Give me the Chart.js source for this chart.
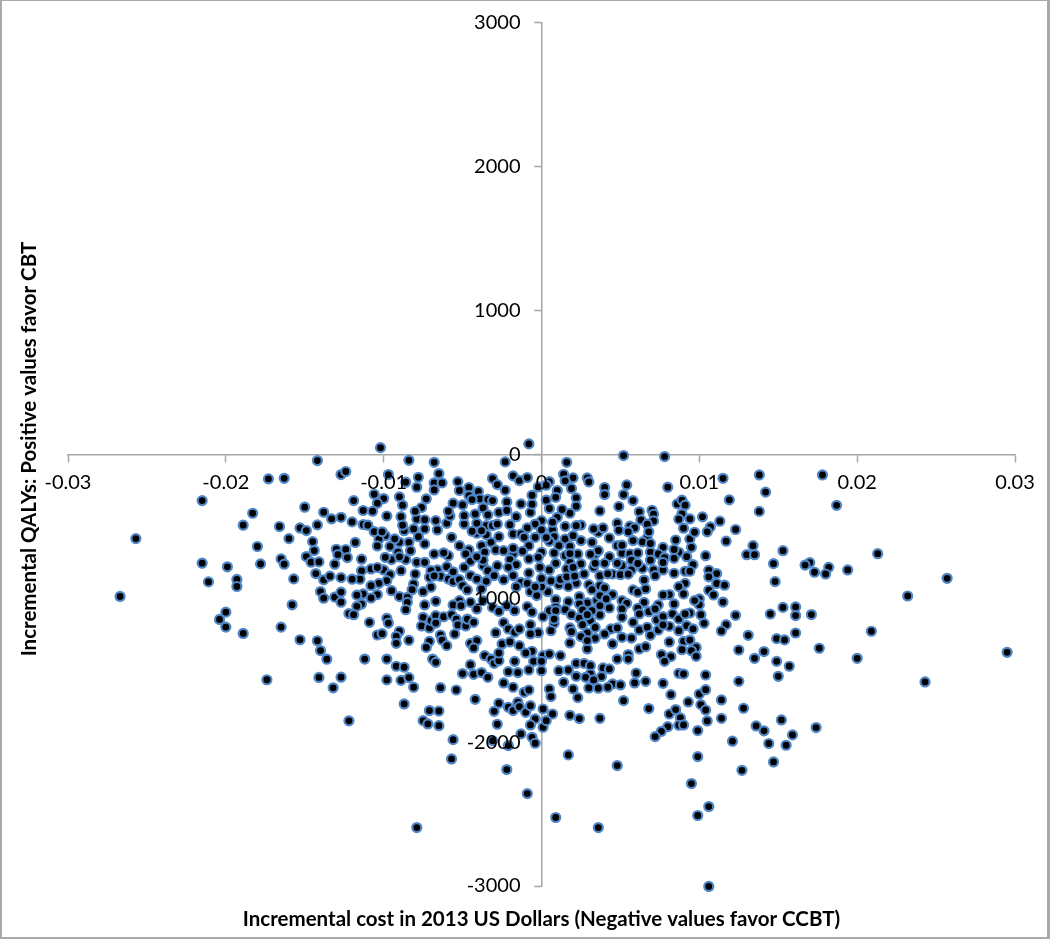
<!DOCTYPE html>
<html><head><meta charset="utf-8">
<style>
html,body{margin:0;padding:0;background:#fff;width:1050px;height:939px;overflow:hidden}
#wrap{position:relative;width:1050px;height:939px}
#frame{position:absolute;left:0;top:0;width:1050px;height:939px;box-sizing:border-box;border-style:solid;border-color:#a9a9a9;border-width:1px 3px 2px 2px;pointer-events:none}
canvas{position:absolute;left:0;top:0}
</style>
<script src="https://cdn.jsdelivr.net/npm/chart.js@4/dist/chart.umd.min.js"></script>
</head><body><div id="wrap"><canvas id="c" width="1050" height="939"></canvas><div id="frame"></div></div>
<script>
const xTitle = "Incremental cost in 2013 US Dollars (Negative values favor CCBT)";
const yTitle = "Incremental QALYs: Positive values favor CBT";
const xTicks = [-0.03,-0.02,-0.01,0,0.01,0.02,0.03];
const yTicks = [-3000,-2000,-1000,0,1000,2000,3000];
// each pair: [incremental cost axis value, incremental QALY axis value]
const denseLeft = [[-0.0098,-429],[-0.0089,-434],[-0.0079,-450],[-0.0074,-455],[-0.0067,-461],[-0.0060,-480],[-0.0058,-429],[-0.0049,-485],[-0.0049,-427],[-0.0042,-415],[-0.0041,-480],[-0.0035,-496],[-0.0041,-549],[-0.0035,-559],[-0.0099,-566],[-0.0103,-589],[-0.0087,-531],[-0.0081,-519],[-0.0074,-519],[-0.0072,-519],[-0.0066,-526],[-0.0078,-573],[-0.0090,-612],[-0.0084,-612],[-0.0074,-623],[-0.0096,-640],[-0.0104,-637],[-0.0057,-577],[-0.0052,-635],[-0.0046,-665],[-0.0048,-693],[-0.0038,-635],[-0.0038,-705],[-0.0083,-670],[-0.0091,-681],[-0.0068,-693],[-0.0059,-705],[-0.0095,-732],[-0.0099,-716],[-0.0086,-732],[-0.0079,-751],[-0.0074,-751],[-0.0060,-781],[-0.0049,-786],[-0.0037,-774],[-0.0108,-797],[-0.0100,-804],[-0.0089,-809],[-0.0066,-804],[-0.0070,-809],[-0.0080,-832],[-0.0071,-855],[-0.0064,-848],[-0.0059,-867],[-0.0056,-885],[-0.0052,-871],[-0.0045,-843],[-0.0041,-867],[-0.0035,-883],[-0.0096,-836],[-0.0098,-878],[-0.0103,-897],[-0.0108,-913],[-0.0081,-901],[-0.0082,-941],[-0.0070,-924],[-0.0050,-913],[-0.0047,-943],[-0.0095,-948],[-0.0075,-955],[-0.0104,-975],[-0.0090,-989],[-0.0085,-994],[-0.0108,-999],[-0.0085,-1029],[-0.0067,-1022],[-0.0074,-1047],[-0.0052,-1017],[-0.0045,-1029],[-0.0056,-1047],[-0.0051,-1052],[-0.0086,-1080],[-0.0037,-1017],[-0.0041,-1075]];
const denseCentre = [[-0.0027,-404],[-0.0016,-434],[-0.0007,-404],[0,-461],[0.0010,-438],[0.0018,-410],[-0.0037,-485],[-0.0031,-496],[-0.0028,-485],[-0.0020,-489],[-0.0004,-485],[-0.0009,-512],[0,-526],[0.0007,-526],[0.0015,-501],[0.0025,-492],[0.0022,-496],[-0.0038,-531],[-0.0036,-566],[-0.0027,-573],[-0.0018,-554],[-0.0013,-554],[-0.0011,-577],[-0.0004,-577],[0.0008,-573],[0.0015,-589],[0.0020,-566],[0.0025,-600],[-0.0032,-612],[-0.0008,-635],[0.0005,-605],[0.0011,-635],[0.0018,-640],[0.0032,-612],[-0.0038,-635],[-0.0036,-681],[-0.0029,-665],[-0.0024,-670],[-0.0018,-693],[-0.0012,-674],[0,-681],[0.0008,-686],[0.0015,-705],[0.0023,-693],[0.0034,-693],[-0.0008,-728],[-0.0002,-716],[-0.0020,-732],[0.0009,-758],[0.0018,-751],[0.0025,-762],[-0.0038,-762],[-0.0028,-774],[-0.0016,-767],[-0.0001,-786],[-0.0021,-786],[0.0005,-804],[0.0016,-797],[-0.0034,-809],[0.0027,-832],[0.0033,-786],[-0.0018,-843],[-0.0008,-825],[-0.0030,-843],[-0.0024,-873],[-0.0035,-883],[-0.0016,-855],[-0.0013,-890],[-0.0009,-897],[0.0022,-897],[0.0017,-920],[0.0030,-906],[0.0011,-906],[-0.0038,-936],[-0.0007,-955],[0.0004,-955],[-0.0003,-982],[0.0032,-941],[0.0024,-989],[0.0009,-1010],[0.0017,-1024],[0.0029,-1033],[0.0024,-1040],[-0.0009,-1059],[0.0009,-1063],[0.0035,-1017]];
const denseRight = [[0.0036,-543],[0.0043,-582],[0.0032,-619],[0.0058,-600],[0.0067,-582],[0.0085,-596],[0.0094,-589],[0.0048,-635],[0.0077,-647],[0.0095,-647],[0.0036,-670],[0.0034,-700],[0.0043,-712],[0.0051,-688],[0.0056,-693],[0.0061,-686],[0.0069,-681],[0.0074,-693],[0.0087,-681],[0.0084,-723],[0.0092,-712],[0.0104,-705],[0.0040,-758],[0.0034,-758],[0.0051,-774],[0.0048,-758],[0.0096,-767],[0.0064,-793],[0.0057,-804],[0.0077,-804],[0.0071,-804],[0.0084,-827],[0.0091,-813],[0.0094,-813],[0.0037,-844],[0.0045,-832],[0.0050,-837],[0.0072,-844],[0.0065,-874],[0.0091,-897],[0.0087,-920],[0.0037,-913],[0.0040,-929],[0.0058,-943],[0.0061,-959],[0.0066,-936],[0.0090,-971],[0.0081,-975],[0.0077,-978],[0.0045,-975],[0.0037,-982],[0.0041,-1005],[0.0031,-913],[0.0034,-1033],[0.0037,-1052],[0.0043,-1068],[0.0051,-1017],[0.0054,-1036],[0.0065,-1029],[0.0074,-1047],[0.0084,-1040],[0.0100,-1005],[0.0100,-1045],[0.0051,-1075],[0.0061,-1070],[0.0068,-1094],[0.0083,-1110],[0.0094,-1103],[0.0037,-1117],[0.0051,-1133],[0.0062,-1110],[0.0073,-1151],[0.0077,-1128],[0.0087,-1144],[0.0103,-1175],[0.0031,-1156],[0.0058,-1168],[0.0081,-1195],[0.0092,-1191],[0.0044,-1214],[0.0062,-1221],[0.0067,-1202],[0.0074,-1221]];
const denseLower = [[-0.0002,-983],[0.0025,-983],[0.0037,-983],[0.0042,-1006],[0.0060,-971],[0.0009,-1006],[0.0017,-1024],[0.0029,-1029],[0.0033,-1036],[0.0054,-1036],[0.0066,-1029],[-0.0006,-1098],[0.0005,-1087],[0.0009,-1087],[0.0015,-1080],[0.0026,-1082],[0.0037,-1115],[0.0042,-1075],[0.0051,-1075],[0.0060,-1068],[0.0001,-1129],[0.0019,-1115],[0.0024,-1138],[0.0051,-1133],[0.0063,-1122],[0.0029,-1173],[0.0058,-1168],[-0.0007,-1184],[0.0008,-1175],[0.0034,-1203],[0.0018,-1207],[0.0067,-1207],[0.0006,-1226],[0.0019,-1233],[0.0029,-1242],[0.0044,-1226],[0.0048,-1207],[0.0040,-1249],[0.0061,-1230],[-0.0002,-1240],[0.0025,-1267],[0.0034,-1279],[0.0051,-1272],[0.0057,-1277],[-0.0007,-1249],[0.0018,-1311],[0.0045,-1318],[0.0029,-1353],[0.0062,-1353],[0.0066,-1337],[-0.0006,-1369],[0.0012,-1399],[0.0001,-1399],[0.0055,-1392],[0.0055,-1423],[0.0048,-1423],[-0.0005,-1439],[0,-1439],[0.0022,-1453],[0.0027,-1453],[0.0031,-1469],[0.0039,-1485],[0.0043,-1492],[0,-1504],[0.0011,-1504],[0.0017,-1499],[0.0031,-1527],[0.0060,-1520],[0.0022,-1543],[0.0028,-1550],[0.0038,-1545],[0.0014,-1585],[0.0045,-1596],[0.0050,-1603],[0.0059,-1589],[0.0066,-1578],[0.0030,-1624],[0.0020,-1631],[0.0036,-1626],[0.0005,-1631],[0.0042,-1619]];
const leftWing = [[-0.0142,-44],[-0.0173,-171],[-0.0163,-167],[-0.0127,-141],[-0.0124,-120],[-0.0215,-322],[-0.0150,-368],[-0.0183,-410],[-0.0138,-403],[-0.0133,-449],[-0.0127,-438],[-0.0189,-493],[-0.0166,-502],[-0.0153,-512],[-0.0149,-530],[-0.0142,-491],[-0.0160,-586],[-0.0257,-586],[-0.0145,-607],[-0.0180,-641],[-0.0144,-669],[-0.0130,-660],[-0.0124,-662],[-0.0129,-697],[-0.0149,-711],[-0.0123,-718],[-0.0165,-727],[-0.0163,-764],[-0.0146,-750],[-0.0141,-748],[-0.0131,-764],[-0.0215,-757],[-0.0178,-762],[-0.0199,-782],[-0.0143,-829],[-0.0138,-873],[-0.0134,-847],[-0.0127,-857],[-0.0157,-866],[-0.0211,-887],[-0.0193,-870],[-0.0193,-919],[-0.0140,-954],[-0.0138,-1000],[-0.0131,-993],[-0.0127,-958],[-0.0127,-1028],[-0.0158,-1046],[-0.0267,-988],[-0.0122,-1107],[-0.0200,-1097],[-0.0204,-1148],[-0.0200,-1201],[-0.0189,-1245],[-0.0165,-1201],[-0.0153,-1289],[-0.0142,-1296],[-0.0140,-1364],[-0.0136,-1424],[-0.0174,-1567],[-0.0141,-1551],[-0.0127,-1549],[-0.0132,-1623],[-0.0122,-1852]];
const upperLeft = [[-0.0102,46],[-0.0084,-42],[-0.0068,-56],[-0.0023,-53],[-0.0008,72],[-0.0097,-141],[-0.0086,-194],[-0.0078,-160],[-0.0065,-134],[-0.0068,-199],[-0.0063,-199],[-0.0068,-248],[-0.0079,-229],[-0.0053,-190],[-0.0052,-252],[-0.0031,-169],[-0.0028,-211],[-0.0023,-250],[-0.0018,-150],[-0.0014,-183],[-0.0009,-162],[-0.0046,-231],[-0.0040,-259],[-0.0046,-287],[-0.0039,-310],[-0.0034,-313],[-0.0031,-322],[-0.0044,-315],[-0.0106,-278],[-0.0100,-308],[-0.0090,-296],[-0.0088,-354],[-0.0104,-340],[-0.0119,-322],[-0.0107,-396],[-0.0113,-391],[-0.0073,-310],[-0.0076,-370],[-0.0080,-396],[-0.0056,-340],[-0.0050,-352],[-0.0059,-396],[-0.0057,-426],[-0.0049,-428],[-0.0042,-407],[-0.0037,-373],[-0.0034,-421],[-0.0027,-403],[-0.0022,-331],[-0.0013,-345],[-0.0022,-391],[-0.0016,-433],[-0.0006,-347],[-0.0006,-285],[-0.0002,-227],[-0.0007,-396],[0.0003,-319],[-0.0098,-421],[-0.0098,-444],[-0.0089,-431],[-0.0079,-442],[-0.0074,-451],[-0.0067,-458],[-0.0120,-470],[-0.0113,-488],[-0.0110,-493],[-0.0088,-493],[-0.0087,-528],[-0.0082,-516],[-0.0075,-511],[-0.0072,-511],[-0.0066,-521],[-0.0059,-481],[-0.0040,-477],[-0.0049,-484],[-0.0031,-498],[-0.0021,-486],[-0.0027,-488],[-0.0010,-498],[-0.0004,-486],[0,-458],[-0.0106,-537],[-0.0101,-539],[-0.0099,-565],[-0.0118,-613],[-0.0104,-634],[-0.0096,-639],[-0.0093,-588],[-0.0089,-604],[-0.0078,-572],[-0.0074,-616],[-0.0057,-572],[-0.0044,-535],[-0.0041,-549],[-0.0035,-544],[-0.0033,-602],[-0.0027,-574],[-0.0018,-551],[-0.0013,-546],[-0.0010,-572],[-0.0006,-574],[0,-523],[-0.0052,-632],[-0.0046,-662],[-0.0048,-685],[-0.0035,-678],[-0.0028,-655],[-0.0024,-662],[-0.0018,-653],[-0.0012,-671],[-0.0090,-671],[-0.0083,-667],[-0.0068,-692],[-0.0062,-685],[-0.0059,-706],[-0.0099,-715],[-0.0095,-729],[-0.0090,-713],[-0.0086,-729],[-0.0114,-729],[-0.0080,-743],[-0.0073,-743],[-0.0060,-776],[-0.0049,-782],[-0.0045,-743],[-0.0037,-736],[-0.0041,-713],[-0.0027,-771],[-0.0021,-732],[-0.0017,-695],[-0.0015,-764],[-0.0008,-725],[-0.0001,-778],[-0.0001,-678],[0.0002,-701],[-0.0108,-794],[-0.0114,-810],[-0.0104,-787],[-0.0100,-806],[-0.0095,-833],[-0.0089,-806],[-0.0079,-831],[-0.0069,-801],[-0.0066,-801],[-0.0071,-852],[-0.0068,-845],[-0.0059,-861],[-0.0056,-817],[-0.0054,-875],[-0.0045,-829],[-0.0040,-857],[-0.0034,-808],[-0.0029,-840],[-0.0035,-880],[-0.0025,-852],[-0.0019,-840],[-0.0023,-875],[-0.0008,-817],[-0.0013,-891],[-0.0115,-868],[-0.0120,-868],[-0.0103,-896],[-0.0097,-875],[-0.0109,-903],[-0.0106,-921],[-0.0082,-940],[-0.0081,-903],[-0.0070,-917],[-0.0048,-898],[-0.0047,-945],[-0.0095,-945],[-0.0091,-984],[-0.0085,-986],[-0.0075,-956],[-0.0113,-970],[-0.0104,-968],[-0.0117,-979],[-0.0109,-979],[-0.0067,-1014],[0,-921],[-0.0009,-894],[-0.0004,-921],[-0.0016,-921],[0.0003,-945]];
const lowerLeft = [[-0.0114,-1041],[-0.0117,-1057],[-0.0119,-1115],[-0.0109,-1168],[-0.0098,-1140],[-0.0097,-1173],[-0.0104,-1256],[-0.0101,-1247],[-0.0099,-1230],[-0.0090,-1230],[-0.0092,-1265],[-0.0092,-1314],[-0.0084,-1293],[-0.0112,-1423],[-0.0098,-1423],[-0.0092,-1473],[-0.0087,-1480],[-0.0098,-1568],[-0.0089,-1571],[-0.0084,-1552],[-0.0081,-1619],[-0.0087,-1735],[-0.0086,-1087],[-0.0084,-1022],[-0.0085,-990],[-0.0073,-1048],[-0.0067,-1022],[-0.0075,-1133],[-0.0076,-1193],[-0.0071,-1207],[-0.0070,-1156],[-0.0067,-1122],[-0.0062,-1129],[-0.0067,-1173],[-0.0056,-1052],[-0.0052,-1024],[-0.0057,-1115],[-0.0054,-1145],[-0.0053,-1186],[-0.0048,-1193],[-0.0047,-1145],[-0.0043,-1168],[-0.0045,-1029],[-0.0041,-1087],[-0.0055,-1249],[-0.0071,-1300],[-0.0073,-1342],[-0.0064,-1256],[-0.0063,-1291],[-0.0060,-1330],[-0.0045,-1314],[-0.0041,-1295],[-0.0043,-1346],[-0.0069,-1423],[-0.0067,-1446],[-0.0045,-1462],[-0.0050,-1524],[-0.0043,-1529],[-0.0038,-1517],[-0.0034,-1550],[-0.0036,-1399],[-0.0032,-1423],[-0.0030,-1453],[-0.0027,-1434],[-0.0027,-1381],[-0.0025,-1318],[-0.0020,-1304],[-0.0014,-1330],[-0.0017,-1439],[-0.0021,-1511],[-0.0015,-1517],[-0.0008,-1499],[-0.0010,-1381],[-0.0005,-1372],[-0.0005,-1436],[0,-1436],[0.0001,-1504],[0.0005,-1388],[-0.0064,-1622],[-0.0054,-1638],[-0.0042,-1703],[-0.0024,-1589],[-0.0018,-1619],[-0.0011,-1654],[-0.0008,-1638],[0.0003,-1638],[-0.0027,-1730],[-0.0030,-1786],[-0.0021,-1758],[-0.0018,-1781],[-0.0015,-1723],[-0.0014,-1754],[-0.0010,-1793],[-0.0007,-1747],[0.0001,-1770],[-0.0004,-1839],[-0.0007,-1881],[-0.0028,-1876],[-0.0071,-1781],[-0.0065,-1784],[-0.0075,-1851],[-0.0072,-1874],[-0.0065,-1886],[-0.0056,-1983],[-0.0057,-2117],[-0.0013,-1943],[-0.0006,-1967],[-0.0004,-2008],[0.0001,-1897],[0.0003,-1916],[-0.0031,-1990],[-0.0021,-2024],[-0.0029,-1240],[-0.0024,-1170],[-0.0021,-1214],[-0.0017,-1237],[-0.0014,-1214],[-0.0009,-1249],[-0.0007,-1180],[-0.0002,-1240],[-0.0038,-1029],[-0.0031,-1064],[-0.0027,-1092],[-0.0022,-1052],[-0.0017,-1087],[-0.0011,-1057],[-0.0006,-1098],[0.0001,-1129],[-0.0008,-1041]];
const upperRight = [[0.0052,-9],[0.0078,-16],[0.0016,-56],[0.0014,-139],[0.0020,-164],[0.0019,-181],[0.0015,-185],[0.0029,-164],[0.0030,-192],[0.0005,-190],[0.0003,-215],[0.0054,-213],[0.0040,-231],[0.0080,-229],[0.0115,-167],[0.0019,-238],[0.0010,-252],[0.0040,-280],[0.0052,-280],[0.0009,-299],[0.0022,-303],[0.0002,-315],[0.0058,-322],[0.0119,-317],[0.0086,-345],[0.0089,-319],[0.0091,-354],[0.0022,-361],[0.0049,-363],[0.0005,-377],[0.0013,-384],[0.0037,-394],[0.0070,-389],[0.0062,-400],[0.0071,-417],[0.0018,-412],[0.0089,-414],[0.0102,-435],[0.0094,-449],[0.0087,-451],[0.0010,-431],[0.0063,-456],[0.0071,-463],[0.0113,-465],[0.0067,-486],[0.0048,-479],[0.0025,-481],[0.0025,-493],[0.0022,-505],[0.0007,-472],[0,-458],[0.0015,-505],[0.0107,-505],[0.0090,-514],[0.0049,-528],[0.0039,-512],[0.0033,-519],[0.0056,-500],[0.0059,-512],[0.0055,-539],[0.0123,-523],[0.0105,-539],[0.0097,-542],[0.0068,-539],[0,-521],[0.0007,-523],[0.0034,-551],[0.0042,-579],[0.0067,-574],[0.0058,-600],[0.0064,-609],[0.0085,-588],[0.0087,-600],[0.0094,-583],[0.0117,-604],[0.0003,-579],[0.0008,-563],[0.0015,-579],[0.0033,-611],[0.0007,-620],[0.0011,-637],[0.0018,-641],[0.0048,-637],[0.0051,-632],[0.0069,-620],[0.0077,-644],[0.0095,-644],[0.0001,-678],[0.0008,-683],[0.0018,-690],[0.0024,-692],[0.0031,-695],[0.0037,-667],[0.0034,-699],[0.0042,-708],[0.0052,-692],[0.0056,-678],[0.0061,-683],[0.0069,-678],[0.0078,-718],[0.0087,-678],[0.0084,-662],[0.0092,-708],[0.0105,-701],[-0.0001,-708],[0.0009,-752],[0.0016,-741],[0.0019,-752],[0.0026,-757],[0.0034,-752],[0.0040,-759],[0.0048,-757],[0.0052,-771],[0.0057,-736],[0.0061,-759],[0.0069,-736],[0.0077,-752],[0.0086,-743],[0.0096,-764],[0.0005,-799],[0.0016,-794],[0.0020,-787],[0.0027,-829],[0.0034,-782],[0.0037,-836],[0.0042,-831],[0.0046,-833],[0.0050,-836],[0.0055,-833],[0.0058,-799],[0.0064,-794],[0.0072,-806],[0.0072,-836],[0.0078,-806],[0.0084,-829],[0.0091,-806],[0.0106,-806],[0.0111,-829],[0.0106,-852],[0,-863],[0.0006,-880],[0.0012,-870],[0.0016,-852],[0.0021,-847],[0.0030,-898],[0.0017,-917],[0.0021,-910],[0.0065,-873],[0.0091,-894],[0.0086,-921],[0.0111,-898],[0.0106,-945],[0.0116,-910],[0.0005,-951],[0.0009,-991],[0.0025,-984],[0.0037,-910],[0.0037,-979],[0.0042,-991],[0.0058,-940],[0.0061,-956],[0.0066,-956],[0.0075,-968],[0.0077,-975],[0.0081,-975],[0.0090,-968]];
const lowerRight = [[0.0009,-1087],[0.0006,-1087],[0.0017,-1024],[0.0015,-1080],[0.0001,-1129],[0.0008,-1145],[0.0008,-1180],[0.0006,-1228],[0.0024,-983],[0.0025,-1041],[0.0029,-1031],[0.0034,-1041],[0.0037,-983],[0.0042,-1008],[0.0042,-1075],[0.0037,-1115],[0.0032,-1087],[0.0024,-1087],[0.0019,-1115],[0.0024,-1138],[0.0029,-1115],[0.0029,-1173],[0.0026,-1184],[0.0018,-1203],[0.0019,-1230],[0.0033,-1203],[0.0029,-1242],[0.0025,-1267],[0.0034,-1279],[0.0029,-1295],[0.0017,-1295],[0.0018,-1311],[0.0040,-1244],[0.0044,-1226],[0.0048,-1207],[0.0045,-1314],[0.0051,-1272],[0.0057,-1277],[0.0061,-1230],[0.0058,-1168],[0.0051,-1133],[0.0051,-1075],[0.0051,-1017],[0.0054,-1034],[0.0060,-1071],[0.0061,-1110],[0.0066,-1029],[0.0066,-1101],[0.0072,-1075],[0.0074,-1048],[0.0067,-1214],[0.0069,-1191],[0.0073,-1161],[0.0069,-1258],[0.0077,-1129],[0.0077,-1186],[0.0081,-1198],[0.0084,-1105],[0.0084,-1045],[0.0086,-1152],[0.0087,-1226],[0.0091,-1110],[0.0095,-1101],[0.0092,-1191],[0.0096,-1214],[0.0101,-1115],[0.0100,-1045],[0.0097,-1017],[0.0102,-1029],[0.0103,-1175],[0.0115,-1027],[0.0123,-1119],[0.0117,-1184],[0.0114,-1228],[0.0062,-1358],[0.0066,-1342],[0.0055,-1392],[0.0055,-1427],[0.0049,-1423],[0.0029,-1353],[0.0012,-1399],[0.0002,-1399],[0.0001,-1436],[0.0002,-1436],[0.0001,-1504],[0.0022,-1453],[0.0025,-1457],[0.0029,-1439],[0.0031,-1469],[0.0039,-1487],[0.0044,-1492],[0.0045,-1476],[0.0017,-1504],[0.0011,-1504],[0.0016,-1522],[0.0022,-1543],[0.0023,-1555],[0.0028,-1550],[0.0031,-1515],[0.0033,-1568],[0.0039,-1527],[0.0039,-1555],[0.0045,-1578],[0.0014,-1585],[0.0019,-1638],[0.0021,-1619],[0.0030,-1624],[0.0037,-1626],[0.0042,-1619],[0.0051,-1603],[0.0059,-1587],[0.0060,-1522],[0.0067,-1580],[0.0077,-1592],[0.0005,-1629],[0.0006,-1684],[0.0023,-1691],[0.0052,-1712],[0.0082,-1670],[0.0068,-1767],[0.0093,-1721],[0.0100,-1666],[0.0104,-1636],[0.0101,-1740],[0.0104,-1777],[0.0114,-1707],[0.0001,-1770],[0.0007,-1805],[0.0018,-1814],[0.0024,-1837],[0.0037,-1835],[0.0003,-1851],[0.0001,-1886],[0.0003,-1923],[0.0081,-1805],[0.0085,-1774],[0.0088,-1832],[0.0087,-1883],[0.0090,-1881],[0.0080,-1893],[0.0076,-1925],[0.0072,-1962],[0.0099,-1920],[0.0105,-1853],[0.0114,-1835],[0.0121,-1994],[0.0123,-1978],[0.0017,-2089],[0.0099,-2101],[0.0087,-1522],[0.0090,-1527],[0.0104,-1534],[0.0106,-1527],[0.0125,-1360],[0.0125,-1578],[0.0076,-1392],[0.0082,-1406],[0.0078,-1439],[0.0081,-1304],[0.0090,-1300],[0.0094,-1291],[0.0098,-1342],[0.0089,-1358],[0.0095,-1365],[0.0098,-1404]];
const rightWing = [[0.0138,-144],[0.0178,-144],[0.0142,-263],[0.0187,-355],[0.0138,-397],[0.0134,-635],[0.0134,-651],[0.0130,-698],[0.0135,-698],[0.0153,-670],[0.0213,-691],[0.0147,-760],[0.0170,-753],[0.0167,-770],[0.0182,-786],[0.0173,-820],[0.0180,-832],[0.0194,-804],[0.0257,-862],[0.0148,-885],[0.0232,-985],[0.0109,-844],[0.0109,-978],[0.0115,-1031],[0.0124,-1121],[0.0145,-1110],[0.0153,-1064],[0.0161,-1061],[0.0161,-1121],[0.0171,-1114],[0.0131,-1258],[0.0149,-1281],[0.0154,-1290],[0.0161,-1242],[0.0209,-1230],[0.0126,-1360],[0.0141,-1371],[0.0135,-1418],[0.0149,-1439],[0.0157,-1473],[0.0176,-1348],[0.0200,-1418],[0.0295,-1376],[0.0150,-1543],[0.0125,-1580],[0.0243,-1582],[0.0128,-1765],[0.0152,-1846],[0.0136,-1888],[0.0141,-1922],[0.0174,-1899],[0.0159,-1950],[0.0123,-1973],[0.0144,-2010],[0.0155,-2022],[0.0147,-2138],[0.0127,-2196]];
const bottomTail = [[-0.0009,-2358],[-0.0022,-2191],[0.0009,-2524],[0.0036,-2594],[-0.0079,-2594],[0.0106,-3003],[0.0106,-2448],[0.0099,-2510],[0.0095,-2288],[0.0048,-2163]];
// the crops overlap, so the same dot can be read twice: keep its first reading
const allPairs = [...denseLeft,...denseCentre,...denseRight,...denseLower,...leftWing,...upperLeft,...lowerLeft,...upperRight,...lowerRight,...rightWing,...bottomTail]
  .filter((p,i,a)=>!a.slice(0,i).some(q=>Math.abs(q[0]-p[0])<0.00022&&Math.abs(q[1]-p[1])<22));

const axisGrey = '#a6a6a6';
const tickFont = {family:'Lato',size:20};
const titleFont = {family:'Lato',size:20.5,weight:'bold'};
new Chart(document.getElementById('c'),{
  type:'scatter',
  data:{datasets:[{
    label:'Incremental cost vs QALYs',
    data:allPairs.map(p=>({x:p[0],y:p[1]})),
    xAxisID:'x',yAxisID:'y',
    pointRadius:4.5,pointHoverRadius:4.5,pointBorderWidth:2.2,
    pointBackgroundColor:'#000000',pointBorderColor:'#4f86c6',clip:false
  }]},
  options:{
    responsive:false,animation:false,
    layout:{padding:{left:0,right:35,top:12,bottom:53}},
    plugins:{legend:{display:false},tooltip:{enabled:false},
      title:{display:true,position:'left',text:yTitle,color:'#000',font:titleFont,padding:{top:16.7,bottom:26.7}}
    },
    scales:{
      x:{type:'linear',position:{y:0},min:-0.03,max:0.03,
        afterBuildTicks:s=>{s.ticks=xTicks.map(v=>({value:v}))},
        border:{display:true,color:axisGrey,width:1.5},
        grid:{display:true,drawOnChartArea:false,drawTicks:true,tickLength:7,tickColor:axisGrey,tickWidth:1.5},
        ticks:{z:1,autoSkip:false,maxRotation:0,padding:9,color:'#000',font:tickFont,callback:v=>String(+(+v).toFixed(2))},
        title:{display:true,text:xTitle,color:'#000',font:titleFont,padding:{top:500,bottom:-40}}
      },
      topSpacer:{type:'linear',axis:'x',position:'top',display:true,
        border:{display:false},grid:{display:false},ticks:{display:false},
        afterFit:s=>{s.height=10.5}
      },
      y:{type:'linear',position:{x:0},min:-3000,max:3000,
        afterBuildTicks:s=>{s.ticks=yTicks.map(v=>({value:v}))},
        border:{display:true,color:axisGrey,width:1.5},
        grid:{display:true,drawOnChartArea:false,drawTicks:true,tickLength:7,tickColor:axisGrey,tickWidth:1.5},
        ticks:{display:false}
      },
      yLabels:{type:'linear',axis:'y',position:{x:-0.00133},min:-3000,max:3000,
        afterBuildTicks:s=>{s.ticks=yTicks.map(v=>({value:v}))},
        border:{display:false},
        grid:{display:false},
        ticks:{z:1,autoSkip:false,color:'#000',font:tickFont,callback:v=>String(v)}
      }
    }
  }
});
</script></body></html>
